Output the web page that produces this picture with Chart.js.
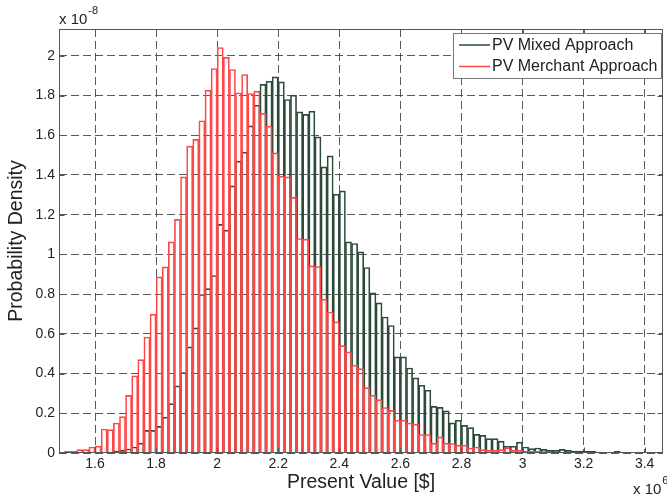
<!DOCTYPE html>
<html>
<head>
<meta charset="utf-8">
<script src="https://cdn.jsdelivr.net/npm/chart.js@4/dist/chart.umd.min.js"></script>
<style>
    html, body { margin: 0; padding: 0; background: #fff; }
    canvas { display: block; }
</style>
</head>
<body>
<canvas id="histChart" width="667" height="499"></canvas>
<script>
// histogram bins (x 10^6 $), first edge and width
const binStart = 1.5;
const binWidth = 0.02;

// probability density (x 10^-8), one value per bin
const mixedDensity = [
    0, 0, 0, 0, 0, 0.002, 0.005, 0.005, 0.01, 0.013,
    0.02, 0.03, 0.05, 0.114, 0.114, 0.134, 0.181, 0.249, 0.338, 0.405,
    0.534, 0.63, 0.798, 0.828, 0.894, 1.151, 1.122, 1.345, 1.47, 1.515,
    1.647, 1.751, 1.856, 1.872, 1.894, 1.869, 1.78, 1.802, 1.718, 1.705,
    1.721, 1.592, 1.441, 1.496, 1.303, 1.32, 1.063, 1.055, 1.013, 0.934,
    0.806, 0.756, 0.685, 0.642, 0.484, 0.484, 0.428, 0.378, 0.341, 0.316,
    0.235, 0.23, 0.212, 0.152, 0.165, 0.139, 0.128, 0.094, 0.089, 0.072,
    0.072, 0.06, 0.034, 0.034, 0.055, 0.03, 0.022, 0.025, 0.018, 0.013,
    0.013, 0.018, 0.013, 0.01, 0.01, 0.008, 0.008, 0.005, 0.003, 0.003,
    0.008, 0.002, 0.001, 0.002, 0.004, 0.001, 0.002, 0.002
];

const merchantDensity = [
    0.008, 0.008, 0.017, 0.017, 0.03, 0.035, 0.121, 0.118, 0.151, 0.183,
    0.29, 0.388, 0.47, 0.584, 0.699, 0.887, 0.937, 1.063, 1.176, 1.39,
    1.545, 1.579, 1.673, 1.827, 1.936, 2.042, 1.992, 1.931, 1.814, 1.906,
    1.81, 1.822, 1.71, 1.646, 1.511, 1.394, 1.39, 1.287, 1.08, 1.077,
    0.942, 0.939, 0.774, 0.71, 0.66, 0.541, 0.509, 0.442, 0.425, 0.329,
    0.291, 0.269, 0.229, 0.215, 0.165, 0.165, 0.151, 0.145, 0.093, 0.093,
    0.05, 0.081, 0.05, 0.048, 0.04, 0.039, 0.025, 0.03, 0.017, 0.013,
    0.013, 0.017, 0.027, 0.013, 0.013, 0.008, 0.008, 0.008, 0.007, 0.005,
    0.006, 0.004, 0.004, 0.003, 0.004, 0.003, 0.003, 0.002, 0.001, 0,
    0, 0, 0, 0, 0, 0, 0, 0
];

const xTicks = [1.6, 1.8, 2, 2.2, 2.4, 2.6, 2.8, 3, 3.2, 3.4];
const yTicks = [0, 0.2, 0.4, 0.6, 0.8, 1, 1.2, 1.4, 1.6, 1.8, 2];

const seriesNames = ['PV Mixed Approach', 'PV Merchant Approach'];

const binCenters = mixedDensity.map((_, i) => +(binStart + binWidth * (i + 0.5)).toFixed(3));

const theme = {
    mixed: '#2c4a39',
    merchant: '#ff4646',
    grid: 'rgba(60, 60, 60, 0.85)',
    frame: '#555',
    text: '#222'
};

Chart.defaults.font.family = "'Liberation Sans', Arial, sans-serif";
Chart.defaults.color = theme.text;

// MATLAB-like box, inner ticks, legend and labels
const matlabFrame = {
    id: 'matlabFrame',
    afterDraw(chart) {
        const { ctx, chartArea: a, scales: { x, y } } = chart;
        const L = Math.round(a.left) + 0.5, R = Math.round(a.right) - 0.5;
        const T = Math.round(a.top) + 0.5, B = Math.round(a.bottom) - 0.5;
        ctx.save();
        ctx.strokeStyle = theme.frame;
        ctx.lineWidth = 1;
        ctx.strokeRect(L, T, R - L, B - T);

        ctx.beginPath();
        xTicks.forEach(v => {
            const px = Math.round(x.getPixelForValue(v)) + 0.5;
            ctx.moveTo(px, B); ctx.lineTo(px, B - 5);
            ctx.moveTo(px, T); ctx.lineTo(px, T + 5);
        });
        yTicks.forEach(v => {
            const py = Math.round(y.getPixelForValue(v)) + 0.5;
            ctx.moveTo(L, py); ctx.lineTo(L + 5, py);
            ctx.moveTo(R, py); ctx.lineTo(R - 5, py);
        });
        ctx.stroke();

        // legend
        ctx.fillStyle = '#fff';
        ctx.fillRect(453.5, 33.5, 208, 45);
        ctx.strokeStyle = '#777';
        ctx.strokeRect(453.5, 33.5, 208, 45);
        const rows = [[seriesNames[0], theme.mixed, 45], [seriesNames[1], theme.merchant, 66.5]];
        ctx.font = "16px 'Liberation Sans', Arial, sans-serif";
        ctx.textBaseline = 'middle';
        ctx.textAlign = 'left';
        rows.forEach(([name, col, ly]) => {
            ctx.strokeStyle = col;
            ctx.lineWidth = 1.5;
            ctx.beginPath();
            ctx.moveTo(459, ly); ctx.lineTo(490, ly);
            ctx.stroke();
            ctx.fillStyle = theme.text;
            ctx.fillText(name, 492, ly + 0.5);
        });

        // axis titles
        ctx.fillStyle = theme.text;
        ctx.font = "19.5px 'Liberation Sans', Arial, sans-serif";
        ctx.textAlign = 'center';
        ctx.fillText('Present Value [$]', (a.left + a.right) / 2, 483);
        ctx.save();
        ctx.translate(17, (a.top + a.bottom) / 2);
        ctx.rotate(-Math.PI / 2);
        ctx.fillText('Probability Density', 0, 0);
        ctx.restore();

        // exponents
        ctx.textAlign = 'left';
        ctx.font = "15px 'Liberation Sans', Arial, sans-serif";
        ctx.fillText('x 10', 59, 20);
        let w = ctx.measureText('x 10').width;
        ctx.font = "11px 'Liberation Sans', Arial, sans-serif";
        ctx.fillText('-8', 59 + w + 1, 11);

        ctx.font = "15px 'Liberation Sans', Arial, sans-serif";
        ctx.fillText('x 10', 633, 490);
        w = ctx.measureText('x 10').width;
        ctx.font = "11px 'Liberation Sans', Arial, sans-serif";
        ctx.fillText('6', 633 + w + 1, 481);
        ctx.restore();
    }
};

const gridOpts = { color: theme.grid, lineWidth: 1, drawTicks: false };

new Chart(document.getElementById('histChart'), {
    type: 'bar',
    data: {
        labels: binCenters,
        datasets: [
            { label: seriesNames[0], data: mixedDensity, borderColor: theme.mixed, order: 2 },
            { label: seriesNames[1], data: merchantDensity, borderColor: theme.merchant, order: 1 }
        ]
    },
    options: {
        responsive: false,
        animation: false,
        events: [],
        datasets: {
            bar: {
                grouped: false,
                barPercentage: 1,
                categoryPercentage: 1,
                backgroundColor: 'rgba(255, 255, 255, 0)',
                borderWidth: 1
            }
        },
        layout: { padding: { top: 29, right: 4, left: 0, bottom: 0 } },
        plugins: {
            legend: { display: false },
            tooltip: { enabled: false }
        },
        scales: {
            x: {
                type: 'linear',
                min: 1.482,
                max: 3.46,
                offset: false,
                afterBuildTicks: s => { s.ticks = xTicks.map(v => ({ value: v })); },
                afterFit: s => { s.height = 46; },
                grid: { ...gridOpts, offset: false },
                border: { display: false, dash: [8, 4] },
                ticks: { font: { size: 14 }, padding: 3, maxRotation: 0, autoSkip: false, callback: v => String(v) }
            },
            y: {
                min: 0,
                max: 2.135,
                afterBuildTicks: s => { s.ticks = yTicks.map(v => ({ value: v })); },
                afterFit: s => { s.width = 59; },
                grid: gridOpts,
                border: { display: false, dash: [8, 4] },
                ticks: { font: { size: 14 }, padding: 4, autoSkip: false, callback: v => String(v) }
            }
        }
    },
    plugins: [matlabFrame]
});
</script>
</body>
</html>
